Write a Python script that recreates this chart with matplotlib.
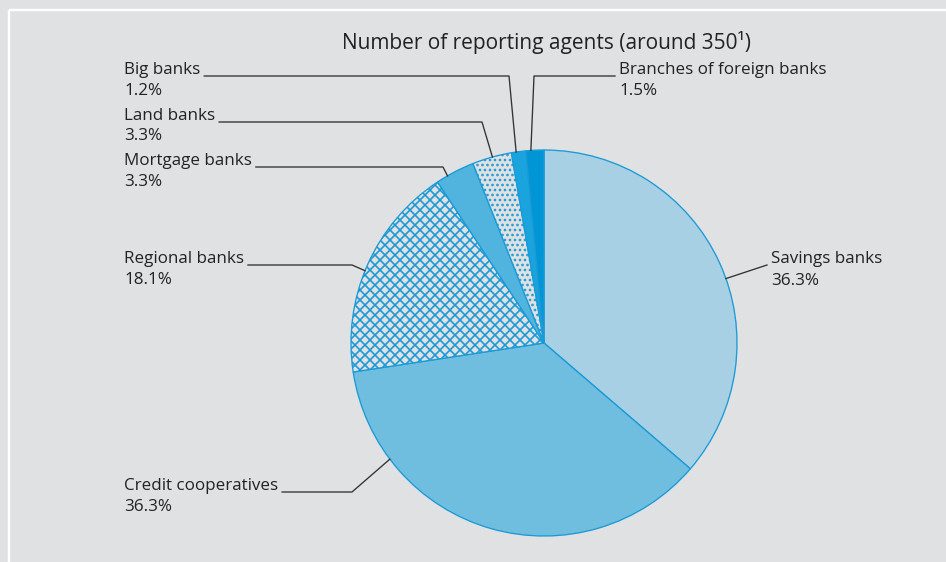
import numpy as np
import matplotlib
matplotlib.use("Agg")
import matplotlib.pyplot as plt
from matplotlib.lines import Line2D

# ---- data ----
categories = ["Savings banks", "Credit cooperatives", "Regional banks",
              "Mortgage banks", "Land banks", "Big banks",
              "Branches of foreign banks"]
shares = [36.3, 36.3, 18.1, 3.3, 3.3, 1.2, 1.5]
value_labels = ["36.3%", "36.3%", "18.1%", "3.3%", "3.3%", "1.2%", "1.5%"]
title = "Number of reporting agents (around 350\u00b9)"

# ---- style ----
W, H, DPI = 946, 562, 120
BG = "#e0e1e3"
EDGE = "#1b9ad6"
TXT = "#222222"
face = ["#a8d0e4", "#6fbee0", BG, "#50b4de", BG, "#1aa4dd", "#0096d6"]
hatches = [None, None, "xxxx", None, "....", None, None]

plt.rcParams["font.family"] = ["Open Sans", "DejaVu Sans"]
plt.rcParams["hatch.linewidth"] = 1.0

fig = plt.figure(figsize=(W / DPI, H / DPI), dpi=DPI, facecolor=BG)
ax = fig.add_axes([0, 0, 1, 1])
ax.set_facecolor(BG)

def Y(y):
    return H - y

cx, cy, R = 544, 343, 193
wedges, _ = ax.pie(shares, startangle=90, counterclock=False,
                   center=(cx, Y(cy)), radius=R, colors=face, frame=True,
                   wedgeprops=dict(edgecolor=EDGE, linewidth=0.8))
for w, h in zip(wedges, hatches):
    if h:
        w.set_hatch(h)

ax.set_xlim(0, W)
ax.set_ylim(0, H)
ax.set_aspect("auto")
ax.axis("off")

# white frame
ax.add_line(Line2D([9, 9], [Y(10), Y(H)], color="white", lw=1.4, solid_capstyle="butt"))
ax.add_line(Line2D([9, W], [Y(10), Y(10)], color="white", lw=1.4, solid_capstyle="butt"))

ax.text(546, Y(43), title, ha="center", va="center", fontsize=12.5, color=TXT)

# label layout: (text x, first line center y, second line y, leader y, elbow x, anchor angle deg)
layout = {
    "Savings banks": (771, 259, 281, 265, None, 19.5),
    "Credit cooperatives": (124, 486, 507, 492, 352, 217.0),
    "Regional banks": (124, 259, 280, 265, 352, 158.0),
    "Mortgage banks": (124, 161, 182, 167, 443, 120.0),
    "Land banks": (124, 116, 136, 122, 482, 105.5),
    "Big banks": (124, 70, 91, 76, 509, 98.3),
    "Branches of foreign banks": (619, 70, 91, 76, 534, 93.9),
}

fig.canvas.draw()
renderer = fig.canvas.get_renderer()
inv = ax.transData.inverted()

for cat, val in zip(categories, value_labels):
    tx, y1, y2, ly, ex, ang = layout[cat]
    t = ax.text(tx, Y(y1), cat, ha="left", va="center", fontsize=10.2, color=TXT)
    ax.text(tx, Y(y2), val, ha="left", va="center", fontsize=10.2, color=TXT)
    bb = t.get_window_extent(renderer)
    (x0, _), (x1, _) = inv.transform([(bb.x0, bb.y0), (bb.x1, bb.y1)])
    a = np.deg2rad(ang)
    px, py = cx + R * np.cos(a), Y(cy) + R * np.sin(a)
    if tx < cx:
        start = x1 + 4
    else:
        start = x0 - 4
    if ex is None:
        xs, ys = [start, px], [Y(ly), py]
    else:
        xs, ys = [start, ex, px], [Y(ly), Y(ly), py]
    ax.add_line(Line2D(xs, ys, color="#333333", lw=0.8))

fig.savefig("out.png", dpi=DPI, facecolor=BG)
